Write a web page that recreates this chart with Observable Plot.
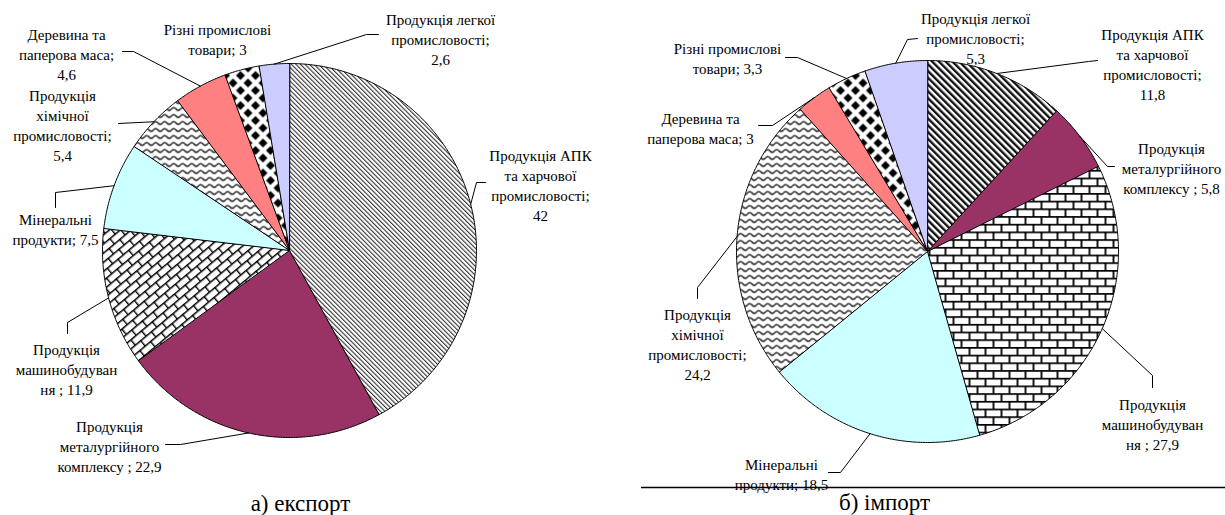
<!DOCTYPE html>
<html><head><meta charset="utf-8">
<script src="https://cdn.jsdelivr.net/npm/d3@7"></script>
<script src="https://cdn.jsdelivr.net/npm/@observablehq/plot@0.6"></script>
<style>body{margin:0;background:#fff}</style>
</head><body><div id="chart"></div>
<script>
// ---- data ----
const categories = [
  "Продукція АПК та харчової промисловості",
  "Продукція металургійного комплексу",
  "Продукція машинобудування",
  "Мінеральні продукти",
  "Продукція хімічної промисловості",
  "Деревина та паперова маса",
  "Різні промислові товари",
  "Продукція легкої промисловості"
];
const exportValues = [42, 22.9, 11.9, 7.5, 5.4, 4.6, 3, 2.6];
const importValues = [11.8, 5.8, 27.9, 18.5, 24.2, 3, 3.3, 5.3];
const exportLabelStems = [
  "Продукція АПК\nта харчової\nпромисловості;\n",
  "Продукція\nметалургійного\nкомплексу ; ",
  "Продукція\nмашинобудуван\nня ; ",
  "Мінеральні\nпродукти; ",
  "Продукція\nхімічної\nпромисловості;\n",
  "Деревина та\nпаперова маса;\n",
  "Різні промислові\nтовари; ",
  "Продукція легкої\nпромисловості;\n"
];
const importLabelStems = [
  "Продукція АПК\nта харчової\nпромисловості;\n",
  "Продукція\nметалургійного\nкомплексу ; ",
  "Продукція\nмашинобудуван\nня ; ",
  "Мінеральні\nпродукти; ",
  "Продукція\nхімічної\nпромисловості;\n",
  "Деревина та\nпаперова маса; ",
  "Різні промислові\nтовари; ",
  "Продукція легкої\nпромисловості;\n"
];
const captions = ["а) експорт", "б) імпорт"];

// ---- styles / layout ----
const exportFills = ["url(#stripeL)", "#993366", "url(#brickD)", "#CCFFFF", "url(#wave)", "#FF8080", "url(#diamond)", "#CCCCFF"];
const importFills = ["url(#stripeD)", "#993366", "url(#brickH)", "#CCFFFF", "url(#wave)", "#FF8080", "url(#diamond)", "#CCCCFF"];
const exportPie = {cx: 289, cy: 250, r: 187};
const importPie = {cx: 927, cy: 251, r: 191};
const exportLayout = [
  {label: [540, 184], leader: [[485,182],[476,182]]},
  {label: [109, 445], leader: [[165,444],[180,444]]},
  {label: [66, 368], leader: [[67,333],[67,322]]},
  {label: [55, 228], leader: [[55,207],[55,192]]},
  {label: [62, 124], leader: [[118,123]]},
  {label: [66, 53], leader: [[122,51],[133,51]]},
  {label: [217, 38], leader: []},
  {label: [440, 38], leader: [[378,34],[366,34]]}
];
const importLayout = [
  {label: [1152, 63], leader: [[1097,60],[1088,61]]},
  {label: [1171, 167], leader: [[1114,166],[1107,166]]},
  {label: [1152, 423], leader: [[1152,387],[1152,375]]},
  {label: [781, 473], leader: [[828,472],[840,472]]},
  {label: [697, 343], leader: [[697,298],[697,287]]},
  {label: [700, 127], leader: [[758,125],[772,125]]},
  {label: [727, 57], leader: [[785,57],[797,57]]},
  {label: [975, 37], leader: [[917,38],[907,39]]}
];
const captionPos = [[300, 503], [884, 502]];

const fmt = v => String(v).replace(".", ",");

function buildPie(values, geom, fills, stems, layout, key) {
  const arcs = d3.pie().sort(null).value(d => d)(values);
  const pts = [], leaders = [], labels = [];
  arcs.forEach((a, i) => {
    const id = key + i;
    pts.push({id, x: geom.cx, y: geom.cy, fill: fills[i]});
    const n = Math.max(2, Math.ceil((a.endAngle - a.startAngle) / (Math.PI / 360)));
    for (let k = 0; k <= n; k++) {
      const t = a.startAngle + (a.endAngle - a.startAngle) * k / n;
      pts.push({id, x: geom.cx + geom.r * Math.sin(t), y: geom.cy - geom.r * Math.cos(t), fill: fills[i]});
    }
    const L = layout[i];
    if (L.leader.length) {
      L.leader.forEach(p => leaders.push({id, x: p[0], y: p[1]}));
      const m = (a.startAngle + a.endAngle) / 2;
      leaders.push({id, x: geom.cx + geom.r * Math.sin(m), y: geom.cy - geom.r * Math.cos(m)});
    }
    labels.push({x: L.label[0], y: L.label[1], text: stems[i] + fmt(values[i]), category: categories[i]});
  });
  return {pts, leaders, labels};
}

const ex = buildPie(exportValues, exportPie, exportFills, exportLabelStems, exportLayout, "e");
const im = buildPie(importValues, importPie, importFills, importLabelStems, importLayout, "i");
const captionRecs = captions.map((c, i) => ({x: captionPos[i][0], y: captionPos[i][1], text: c}));
const FONT = "Liberation Serif, Times New Roman, serif";

const plot = Plot.plot({
  width: 1225, height: 515, margin: 0,
  x: {domain: [0, 1225], range: [0, 1225], axis: null},
  y: {domain: [0, 515], range: [0, 515], axis: null},
  color: {type: "identity"},
  style: {fontFamily: FONT, background: "#fff"},
  marks: [
    Plot.line(ex.pts, {x: "x", y: "y", z: "id", fill: "fill", stroke: "#000", strokeWidth: 1, curve: "linear-closed"}),
    Plot.line(im.pts, {x: "x", y: "y", z: "id", fill: "fill", stroke: "#000", strokeWidth: 1, curve: "linear-closed"}),
    Plot.line(ex.leaders.concat(im.leaders), {x: "x", y: "y", z: "id", stroke: "#000", strokeWidth: 1}),
    Plot.text(ex.labels.concat(im.labels), {x: "x", y: "y", text: "text", fontFamily: FONT, fontSize: 15, lineHeight: 1.333, textAnchor: "middle", fill: "#000"}),
    Plot.ruleY([487], {x1: 641, x2: 1225, stroke: "#000", strokeWidth: 1.5}),
    Plot.text(captionRecs, {x: "x", y: "y", text: "text", fontFamily: FONT, fontSize: 23, textAnchor: "middle", fill: "#000"})
  ]
});

const defs = document.createElementNS("http://www.w3.org/2000/svg", "defs");
defs.innerHTML = `
<pattern id="stripeL" patternUnits="userSpaceOnUse" width="3.2" height="10" patternTransform="rotate(-45)">
  <rect width="3.2" height="10" fill="#fff"/><rect width="1.1" height="10" fill="#333"/></pattern>
<pattern id="stripeD" patternUnits="userSpaceOnUse" width="4.8" height="10" patternTransform="rotate(-45)">
  <rect width="4.8" height="10" fill="#fff"/><rect width="2.4" height="10" fill="#111"/></pattern>
<pattern id="brickH" patternUnits="userSpaceOnUse" width="16" height="15.4">
  <rect width="16" height="15.4" fill="#fff"/>
  <path d="M0 0.9H16M0 8.6H16M1 0.9V8.6M9 8.6V16.3" stroke="#000" stroke-width="1.8" fill="none"/></pattern>
<pattern id="brickD" patternUnits="userSpaceOnUse" width="14" height="14" patternTransform="rotate(-40)">
  <rect width="14" height="14" fill="#fff"/>
  <path d="M0 0.7H14M0 7.7H14M0.7 0.7V7.7M7.7 7.7V14.7" stroke="#000" stroke-width="1.4" fill="none"/></pattern>
<pattern id="wave" patternUnits="userSpaceOnUse" width="9" height="7">
  <rect width="9" height="7" fill="#fff"/>
  <path d="M0 3.5 Q2.25 0.8 4.5 3.5 T9 3.5" stroke="#000" stroke-width="1.2" fill="none"/></pattern>
<pattern id="diamond" patternUnits="userSpaceOnUse" width="15" height="15">
  <rect width="15" height="15" fill="#fff"/>
  <path d="M7.5 3L12 7.5L7.5 12L3 7.5Z M0 -4.5L4.5 0L0 4.5L-4.5 0Z M15 -4.5L19.5 0L15 4.5L10.5 0Z M0 10.5L4.5 15L0 19.5L-4.5 15Z M15 10.5L19.5 15L15 19.5L10.5 15Z" fill="#000"/></pattern>`;
plot.insertBefore(defs, plot.firstChild);
document.getElementById("chart").appendChild(plot);
</script>
</body></html>
